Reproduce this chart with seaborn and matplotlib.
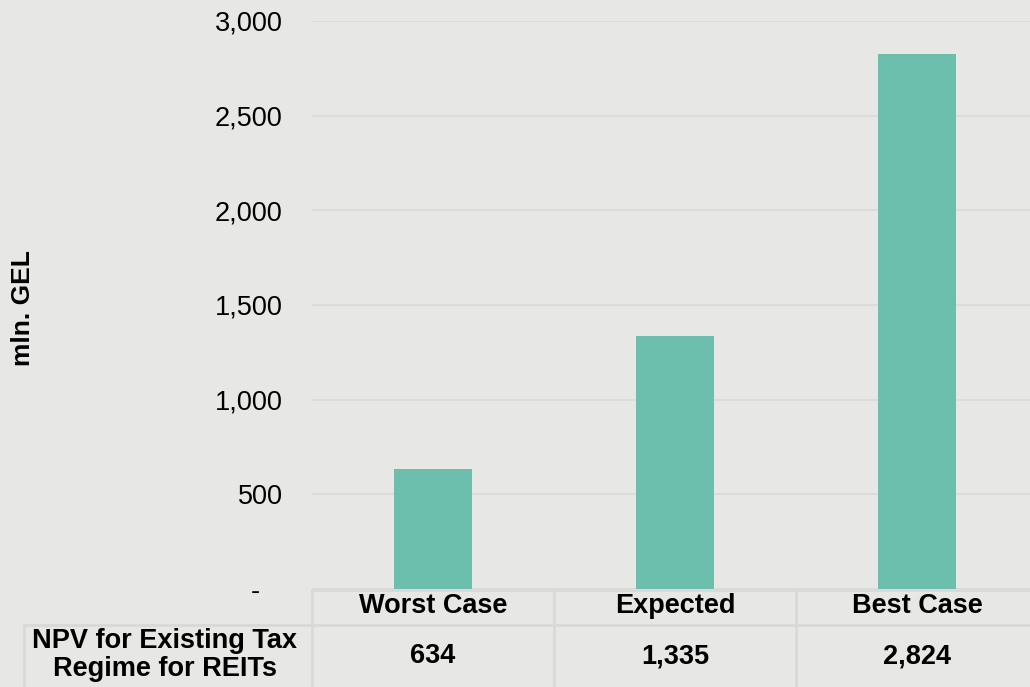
import matplotlib
matplotlib.use("Agg")
import matplotlib.pyplot as plt
import matplotlib.transforms as mtransforms
from matplotlib.lines import Line2D
from matplotlib.ticker import FuncFormatter
import seaborn as sns
import pandas as pd

# Scenario NPVs (mln. GEL)
scenarios = ["Worst Case", "Expected", "Best Case"]
npv_values = [634, 1335, 2824]
row_label = "NPV for Existing Tax\nRegime for REITs"
y_ticks = [0, 500, 1000, 1500, 2000, 2500, 3000]

BG = "#e7e7e5"
BAR = "#6dbfad"
GRID = "#dcdcda"
CELL = "#d9d9d7"
INK = "#000000"

sns.set_theme(style="white")
plt.rcParams["font.family"] = ["Liberation Sans", "DejaVu Sans"]

W, H = 1030, 687
fig = plt.figure(figsize=(W / 100, H / 100), dpi=100, facecolor=BG)


def fx(px):
    return px / W


def fy(py):
    return 1 - py / H


ax = fig.add_axes([fx(312), fy(589), fx(1038 - 312), fy(21) - fy(589)])
ax.set_facecolor(BG)

df = pd.DataFrame({"scenario": scenarios, "npv": npv_values})
sns.barplot(data=df, x="scenario", y="npv", color=BAR, width=0.32,
            saturation=1, linewidth=0, edgecolor="none", ax=ax, zorder=3)

ax.set_xlim(-0.5, len(scenarios) - 0.5)
ax.set_ylim(0, 3000)
ax.set_yticks(y_ticks)
# accounting-style zero: a dash padded on the right
ax.yaxis.set_major_formatter(FuncFormatter(lambda v, p: "-   " if v == 0 else f"{int(v):,}"))
ax.tick_params(axis="y", length=0, pad=21, labelsize=19.5, labelcolor=INK)
ax.set_xticks([])
ax.set_xlabel("")
ax.set_ylabel("")
ax.grid(axis="y", color=GRID, linewidth=1.5, zorder=0)
for s in ax.spines.values():
    s.set_visible(False)

fig.text(fx(23), fy(308), "mln. GEL", rotation=90, ha="center", va="center",
         fontsize=19, fontweight="bold", color=INK)

# Data table below the plot
tr = mtransforms.blended_transform_factory(ax.transData, fig.transFigure)
n = len(scenarios)
top_y, mid_y, bot_y = fy(590), fy(625), fy(700)

for i, (name, val) in enumerate(zip(scenarios, npv_values)):
    fig.text(i, fy(606), name, transform=tr, ha="center", va="center",
             fontsize=19.5, fontweight="bold", color=INK)
    fig.text(i, fy(656), f"{val:,}", transform=tr, ha="center", va="center",
             fontsize=19.5, fontweight="bold", color=INK)

fig.text(fx(165), fy(655), row_label, ha="center", va="center",
         fontsize=19.5, fontweight="bold", color=INK, linespacing=1.05)

lw = 2.0
# header top border
fig.add_artist(Line2D([-0.5, n - 0.5], [top_y, top_y], transform=tr, color=CELL, lw=lw))
# vertical cell borders
for b in [i - 0.5 for i in range(n + 1)]:
    fig.add_artist(Line2D([b, b], [top_y, bot_y], transform=tr, color=CELL, lw=lw))
# row separator and row-label cell
fig.add_artist(Line2D([fx(24), 1.05], [mid_y, mid_y], transform=fig.transFigure, color=CELL, lw=lw))
fig.add_artist(Line2D([fx(24), fx(24)], [mid_y, bot_y], transform=fig.transFigure, color=CELL, lw=lw))

fig.savefig("out.png", dpi=100, facecolor=BG)
